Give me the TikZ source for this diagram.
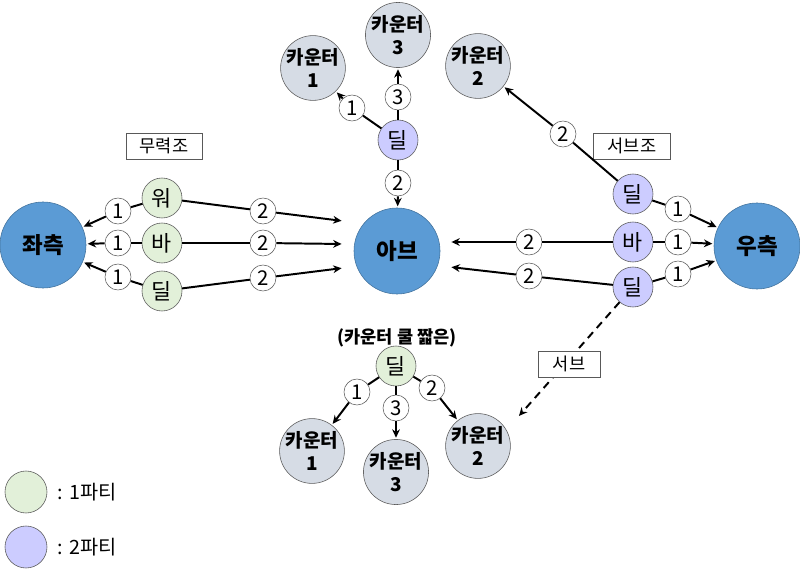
\documentclass[tikz,border=0pt]{standalone}
\usepackage{fontspec}
\setmainfont{Noto Sans CJK KR}
\usetikzlibrary{arrows.meta}

\definecolor{sideblue}{HTML}{5B9BD5}
\definecolor{sideedge}{HTML}{41719C}
\definecolor{partyone}{HTML}{E2F0D9}
\definecolor{partytwo}{HTML}{CCCCFF}
\definecolor{counterfill}{HTML}{D6DCE5}
\definecolor{edgegray}{HTML}{595959}

\begin{document}
\begin{tikzpicture}[x=0.025cm, y=-0.025cm,
    sidenode/.style={circle, fill=sideblue, draw=sideedge, minimum size=2.15cm,
        inner sep=0pt, font=\fontsize{16}{18}\selectfont\bfseries},
    counter/.style={circle, fill=counterfill, draw=edgegray, minimum size=1.55cm,
        inner sep=0pt, align=center, font=\fontsize{13.5}{16}\selectfont\bfseries},
    firstparty/.style={circle, fill=partyone, draw=edgegray, minimum size=1cm,
        inner sep=0pt, font=\fontsize{15.5}{16}\selectfont},
    secondparty/.style={firstparty, fill=partytwo},
    num/.style={circle, fill=white, draw=edgegray, minimum size=0.65cm,
        inner sep=0pt, font=\fontsize{14.5}{15}\selectfont},
    tag/.style={draw=edgegray, fill=white, minimum height=0.65cm,
        inner sep=0pt, font=\fontsize{12.5}{14}\selectfont},
    link/.style={line width=1.4pt},
    arr/.style={link, -{Stealth[length=6pt,width=5.5pt]}, shorten >=1pt},
]
    \useasboundingbox (0,0) rectangle (800,569);

    % big circles
    \node[sidenode] (left) at (43,245) {좌측};
    \node[sidenode] (ab) at (397,251) {아브};
    \node[sidenode] (right) at (757,246) {우측};
    \coordinate (ab-w1) at (343,221);
    \coordinate (ab-w2) at (343,244);
    \coordinate (ab-w3) at (343,268);
    \coordinate (ab-e1) at (450,242);
    \coordinate (ab-e2) at (450,267);

    % left group
    \node[tag, minimum width=1.9cm] (force) at (164,146) {무력조};
    \node[firstparty] (wo) at (162,198) {워};
    \node[firstparty] (ba1) at (162,243) {바};
    \node[firstparty] (dil1) at (162,291) {딜};
    \node[num] (l1a) at (118,211) {1};
    \node[num] (l1b) at (118,243) {1};
    \node[num] (l1c) at (118,277) {1};
    \node[num] (l2a) at (263,211) {2};
    \node[num] (l2b) at (263,243) {2};
    \node[num] (l2c) at (263,278) {2};
    \draw[link] (wo) -- (l1a);
    \draw[arr] (l1a) -- (left);
    \draw[link] (ba1) -- (l1b);
    \draw[arr] (l1b) -- (left);
    \draw[link] (dil1) -- (l1c);
    \draw[arr] (l1c) -- (left);
    \draw[link] (wo) -- (l2a);
    \draw[arr] (l2a) -- (ab-w1);
    \draw[link] (ba1) -- (l2b);
    \draw[arr] (l2b) -- (ab-w2);
    \draw[link] (dil1) -- (l2c);
    \draw[arr] (l2c) -- (ab-w3);

    % top group
    \node[secondparty] (dil4) at (398,140) {딜};
    \node[counter] (c1top) at (313,68) {카운터\\1};
    \node[counter] (c3top) at (398,35) {카운터\\3};
    \node[counter] (c2top) at (478,66) {카운터\\2};
    \node[num] (t1) at (352,108) {1};
    \node[num] (t3) at (398,97) {3};
    \node[num] (t2) at (398,183) {2};
    \draw[link] (dil4) -- (t1);
    \draw[arr] (t1) -- (c1top);
    \draw[link] (dil4) -- (t3);
    \draw[arr] (t3) -- (c3top);
    \draw[link] (dil4) -- (t2);
    \draw[arr] (t2) -- (ab);

    % right group
    \node[tag, minimum width=1.93cm] (subteam) at (632,146) {서브조};
    \node[secondparty] (dil2) at (633,194) {딜};
    \node[secondparty] (ba2) at (633,242) {바};
    \node[secondparty] (dil3) at (633,287) {딜};
    \node[num] (r2top) at (563,134) {2};
    \node[num] (r1a) at (678,209) {1};
    \node[num] (r1b) at (678,242) {1};
    \node[num] (r1c) at (678,274) {1};
    \node[num] (r2a) at (529,242) {2};
    \node[num] (r2b) at (529,276) {2};
    \draw[link] (dil2) -- (r2top);
    \draw[arr] (r2top) -- (c2top);
    \draw[link] (dil2) -- (r1a);
    \draw[arr] (r1a) -- (right);
    \draw[link] (ba2) -- (r1b);
    \draw[arr] (r1b) -- (right);
    \draw[link] (dil3) -- (r1c);
    \draw[arr] (r1c) -- (right);
    \draw[link] (ba2) -- (r2a);
    \draw[arr] (r2a) -- (ab-e1);
    \draw[link] (dil3) -- (r2b);
    \draw[arr] (r2b) -- (ab-e2);

    % bottom group
    \node[font=\fontsize{12.5}{15}\selectfont\bfseries] (title) at (397,338) {(카운터 쿨 짧은)};
    \node[firstparty] (dil5) at (396,366) {딜};
    \node[counter] (c1bot) at (312,451) {카운터\\1};
    \node[counter] (c3bot) at (396,472) {카운터\\3};
    \node[counter] (c2bot) at (478,446) {카운터\\2};
    \node[num] (b1) at (357,392) {1};
    \node[num] (b3) at (396,408) {3};
    \node[num] (b2) at (432,388) {2};
    \draw[link] (dil5) -- (b1);
    \draw[arr] (b1) -- (c1bot);
    \draw[link] (dil5) -- (b3);
    \draw[arr] (b3) -- (c3bot);
    \draw[link] (dil5) -- (b2);
    \draw[arr] (b2) -- (c2bot);

    % sub move
    \coordinate (sub-end) at (518,417);
    \draw[arr, dash pattern=on 5.5pt off 4pt] (dil3) -- (sub-end);
    \node[tag, minimum width=1.55cm] (sub) at (569,364) {서브};

    % legend
    \node[firstparty, minimum size=1.05cm] (key1) at (26,492) {};
    \node[secondparty, minimum size=1.05cm] (key2) at (26,547) {};
    \node[anchor=west, font=\fontsize{14}{15}\selectfont] (key1text) at (53,492) {: 1파티};
    \node[anchor=west, font=\fontsize{14}{15}\selectfont] (key2text) at (53,547) {: 2파티};
\end{tikzpicture}
\end{document}
